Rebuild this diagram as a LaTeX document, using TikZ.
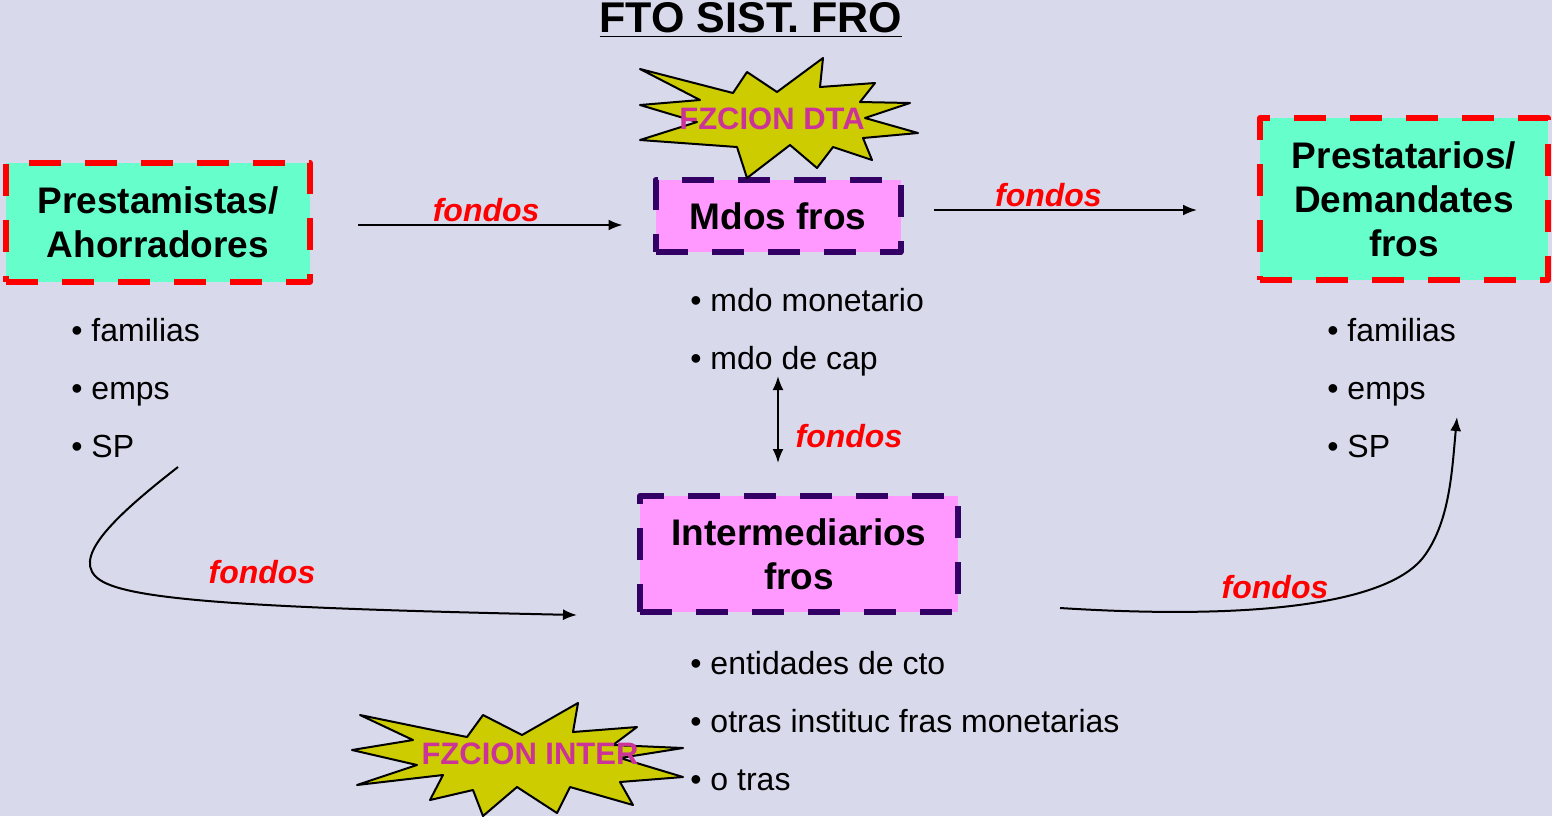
\documentclass[tikz,border=0pt]{standalone}
\usepackage{fontspec}
\setmainfont{Liberation Sans}
\usetikzlibrary{arrows.meta}
\definecolor{slide}{RGB}{217,217,236}
\definecolor{aqua}{RGB}{102,255,204}
\definecolor{rosa}{RGB}{255,153,255}
\definecolor{morado}{RGB}{51,0,102}
\definecolor{mostaza}{RGB}{204,204,0}
\definecolor{fucsia}{RGB}{204,51,153}
\begin{document}
\begin{tikzpicture}[x=0.5pt, y=-0.5pt, line join=round, >={Latex[length=7pt,width=5.5pt]}]
		\tikzset{
		agente/.style={draw=red, fill=aqua, line width=3pt, dash pattern=on 16pt off 12pt, align=center, font=\fontsize{18.5}{22}\selectfont\bfseries},
		mercado/.style={draw=morado, fill=rosa, line width=3pt, dash pattern=on 16pt off 12pt, align=center, font=\fontsize{18.5}{22}\selectfont\bfseries},
		item/.style={anchor=base west, inner sep=0pt, font=\fontsize{16}{19}\selectfont},
		flujo/.style={->, line width=1pt},
		fondos/.style={text=red, font=\fontsize{16}{19}\selectfont\bfseries\itshape},
		burst/.style={draw=black, fill=mostaza, line width=1pt},
		fzcion/.style={text=fucsia, font=\fontsize{15.5}{18}\selectfont\bfseries}
		}
		\clip (0,0) rectangle (1552,816);
		\fill[slide] (0,0) rectangle (1552,816);
		\node[font=\fontsize{21.5}{25}\selectfont\bfseries] (titulo) at (751,20) {\underline{FTO SIST. FRO}};
		% cajas
		\node[agente, minimum width=152pt, minimum height=59.5pt] (prest) at (158,222) {Prestamistas/\\Ahorradores};
		\node[agente, minimum width=144pt, minimum height=81pt] (demand) at (1404,199) {Prestatarios/\\Demandates\\fros};
		\node[mercado, minimum width=122.5pt, minimum height=36pt] (mdos) at (778,216) {Mdos fros};
		\node[mercado, minimum width=159pt, minimum height=58pt] (interm) at (799,554) {Intermediarios\\fros};
		% estrellas
		\draw[burst] (640,69) -- (733,93) -- (747,72) -- (777,92) -- (823,58) -- (820,87) -- (875,83) -- (860,102) -- (910,103) -- (865,118) -- (918,133) -- (863,138) -- (872,160) -- (833,147) -- (817,168) -- (790,145) -- (747,178) -- (737,147) -- (640,140) -- (697,122) -- (640,105) -- (700,100) -- cycle;
		\node[fzcion] (dta) at (772,119) {FZCION DTA};
		\draw[burst] (360,715) -- (467,737) -- (483,715) -- (522,735) -- (578,703) -- (573,732) -- (637,727) -- (613,745) -- (683,748) -- (620,758) -- (683,777) -- (620,782) -- (633,805) -- (570,787) -- (557,813) -- (517,787) -- (483,816) -- (473,790) -- (430,800) -- (443,775) -- (357,785) -- (417,765) -- (352,750) -- (413,740) -- cycle;
		\node[fzcion] (inter) at (530,754) {FZCION INTER};
		% listas
		\foreach \t [count=\i] in {familias,emps,SP}{
		\node[item] (prl\i) at (71,{341+58*(\i-1)}) {• \t};
		\node[item] (del\i) at (1327,{341+58*(\i-1)}) {• \t};
		}
		\foreach \t [count=\i] in {mdo monetario,mdo de cap}{
		\node[item] (mdl\i) at (690,{311+58*(\i-1)}) {• \t};
		}
		\foreach \t [count=\i] in {entidades de cto,otras instituc fras monetarias,o tras}{
		\node[item] (inl\i) at (690,{674+58*(\i-1)}) {• \t};
		}
		% flujos
		\draw[flujo, shorten <=22.5pt, shorten >=15pt] ([yshift=-1.5pt]prest.east) -- ([yshift=-1.5pt]prest.east -| mdos.west) node[fondos, pos=0.51, above=-2pt] {fondos};
		\draw[flujo, shorten <=15pt, shorten >=30pt] ([yshift=3pt]mdos.east) -- ([yshift=3pt]mdos.east -| demand.west) node[fondos, pos=0.41, above=-2pt] {fondos};
		\draw[<->, line width=1pt, shorten <=0pt, shorten >=15pt] (mdos |- mdl2.south) -- (mdos |- interm.north) node[fondos, pos=0.51, right=5pt] {fondos};
		\coordinate (sal) at (178,467);
		\draw[flujo] (sal) .. controls (110,520) and (70,560) .. (100,580) .. controls (130,600) and (250,608) .. ([xshift=-30pt]interm.south west);
		\node[fondos] (f4) at (262,572) {fondos};
		\coordinate (lleg) at (1457,417);
		\draw[flujo] ([shift={(99,-7)}]interm.south east) .. controls (1250,620) and (1390,605) .. (1425,555) .. controls (1450,520) and (1452,470) .. (lleg);
		\node[fondos] (f5) at (1275,587) {fondos};
	\end{tikzpicture}
\end{document}
